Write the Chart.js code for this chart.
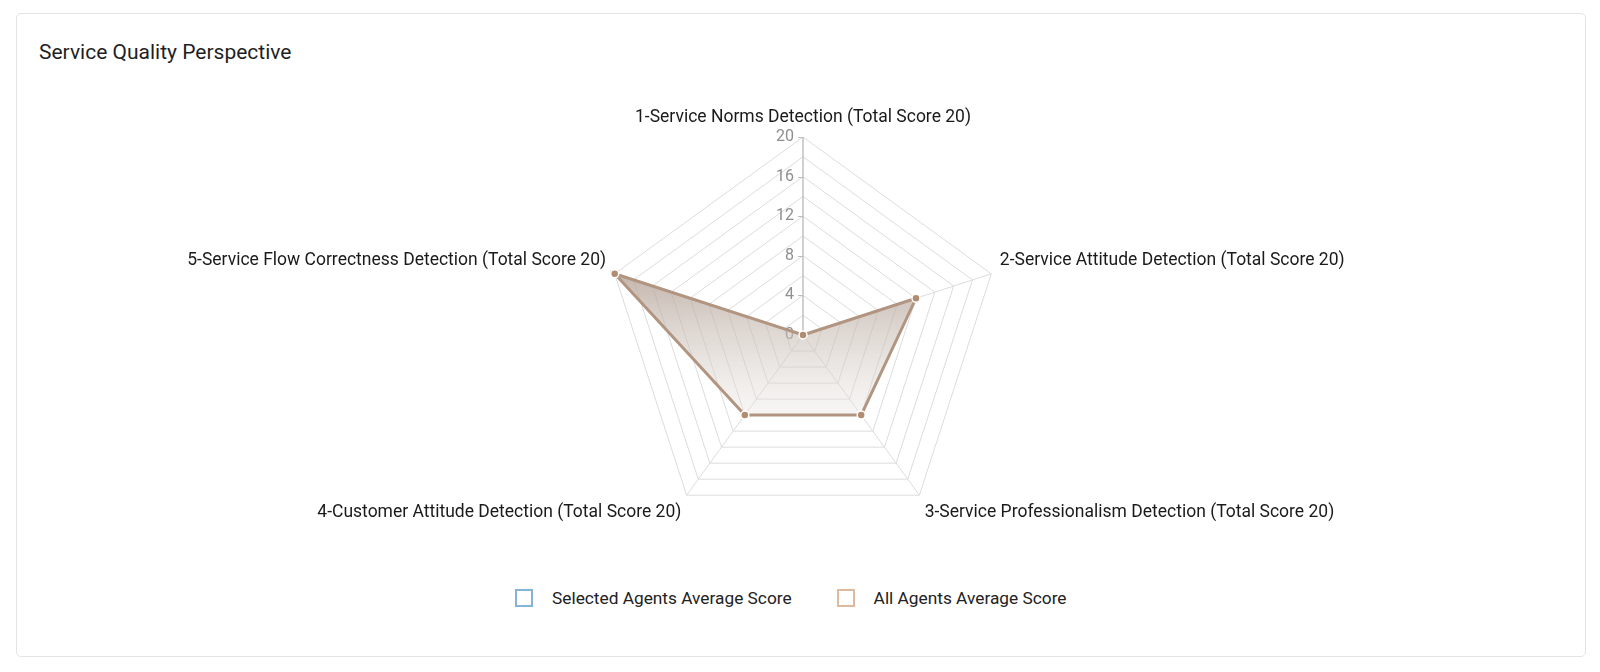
<!DOCTYPE html>
<html>
<head>
<meta charset="utf-8">
<script src="https://cdn.jsdelivr.net/npm/chart.js@4.4.0/dist/chart.umd.min.js"></script>
<style>
  body { margin: 0; background: #fff; font-family: Roboto, "Noto Sans", sans-serif; }
  .card { position: absolute; left: 16px; top: 13px; width: 1570px; height: 644px;
          border: 1px solid #e4e4e4; border-radius: 5px; box-sizing: border-box; }
  .title { position: absolute; left: 39px; top: 40px; font-size: 21px; color: #1f1f1f; }
  .chart-wrap { position: absolute; left: 20px; top: 92px; width: 1566px; height: 456px; }
  .legend { position: absolute; left: 515px; top: 588px; display: flex; align-items: center;
            font-size: 17.3px; color: #222; }
  .legend .item { display: flex; align-items: center; margin-right: 45px; }
  .legend .box { width: 18px; height: 18px; box-sizing: border-box; border: 2.5px solid; margin-right: 19px; }
</style>
</head>
<body>
<div class="card"></div>
<div class="title">Service Quality Perspective</div>
<div class="chart-wrap"><canvas id="radar"></canvas></div>
<div class="legend" id="legend"></div>
<script>
// axes of the radar
const categories = [
  '1-Service Norms Detection (Total Score 20)',
  '2-Service Attitude Detection (Total Score 20)',
  '3-Service Professionalism Detection (Total Score 20)',
  '4-Customer Attitude Detection (Total Score 20)',
  '5-Service Flow Correctness Detection (Total Score 20)'
];
const seriesNames = ['Selected Agents Average Score', 'All Agents Average Score'];
const selectedScores = [];            // nothing drawn for the selected agents
const allScores = [0, 12, 10, 10, 20];
const tickLabels = [0, 4, 8, 12, 16, 20];

const blue = 'rgb(133,180,214)';
const tan = 'rgb(223,185,158)';
const lineBrown = 'rgb(178,149,128)';
const pointBrown = 'rgb(176,140,112)';

// value labels on the left of the vertical axis, echarts style
const tickLabelPlugin = {
  id: 'tickLabels',
  beforeDatasetsDraw(chart) {
    const r = chart.scales.r;
    const ctx = chart.ctx;
    ctx.save();
    ctx.font = '16px Roboto';
    ctx.fillStyle = '#8e8e8e';
    ctx.textAlign = 'right';
    ctx.textBaseline = 'middle';
    ctx.strokeStyle = '#bdbdbd';
    ctx.lineWidth = 1;
    tickLabels.forEach(v => {
      const y = r.yCenter - r.getDistanceFromCenterForValue(v);
      ctx.fillText(String(v), r.xCenter - 9, y);
      ctx.beginPath();
      ctx.moveTo(r.xCenter - 5, Math.round(y) + 0.5);
      ctx.lineTo(r.xCenter, Math.round(y) + 0.5);
      ctx.stroke();
    });
    ctx.restore();
  }
};

new Chart(document.getElementById('radar'), {
  type: 'radar',
  data: {
    labels: categories,
    datasets: [
      {
        label: seriesNames[0],
        data: selectedScores,
        borderColor: blue,
        backgroundColor: 'rgba(133,180,214,0.3)',
        borderWidth: 3
      },
      {
        label: seriesNames[1],
        data: allScores,
        borderColor: lineBrown,
        borderWidth: 3,
        fill: true,
        backgroundColor: (c) => {
          const r = c.chart.scales.r;
          if (!r || !r.drawingArea) return 'rgba(190,175,165,0.5)';
          const g = c.chart.ctx.createLinearGradient(0, r.yCenter - r.drawingArea * 0.33, 0, r.yCenter + r.drawingArea * 0.42);
          g.addColorStop(0, 'rgba(176,158,145,0.78)');
          g.addColorStop(1, 'rgba(235,232,229,0.35)');
          return g;
        },
        pointRadius: 4,
        pointBackgroundColor: pointBrown,
        pointBorderColor: '#ffffff',
        pointBorderWidth: 1.5,
        tension: 0
      }
    ]
  },
  options: {
    responsive: true,
    maintainAspectRatio: false,
    animation: false,
    plugins: {
      legend: { display: false },
      tooltip: { enabled: false }
    },
    scales: {
      r: {
        min: 0,
        max: 20,
        ticks: { stepSize: 2, display: false },
        grid: { color: '#dcdcdc', lineWidth: 1, circular: false },
        angleLines: {
          color: (c) => c.index === 0 ? '#c0c0c0' : '#dcdcdc',
          lineWidth: (c) => c.index === 0 ? 1.5 : 1
        },
        pointLabels: {
          padding: 9,
          color: '#1a1a1a',
          font: { family: 'Roboto', size: 17.5 }
        }
      }
    }
  },
  plugins: [tickLabelPlugin]
});

// legend with hollow boxes
const legend = document.getElementById('legend');
[blue, tan].forEach((col, i) => {
  const item = document.createElement('div');
  item.className = 'item';
  const box = document.createElement('span');
  box.className = 'box';
  box.style.borderColor = col;
  const txt = document.createElement('span');
  txt.textContent = seriesNames[i];
  item.appendChild(box);
  item.appendChild(txt);
  legend.appendChild(item);
});
</script>
</body>
</html>
